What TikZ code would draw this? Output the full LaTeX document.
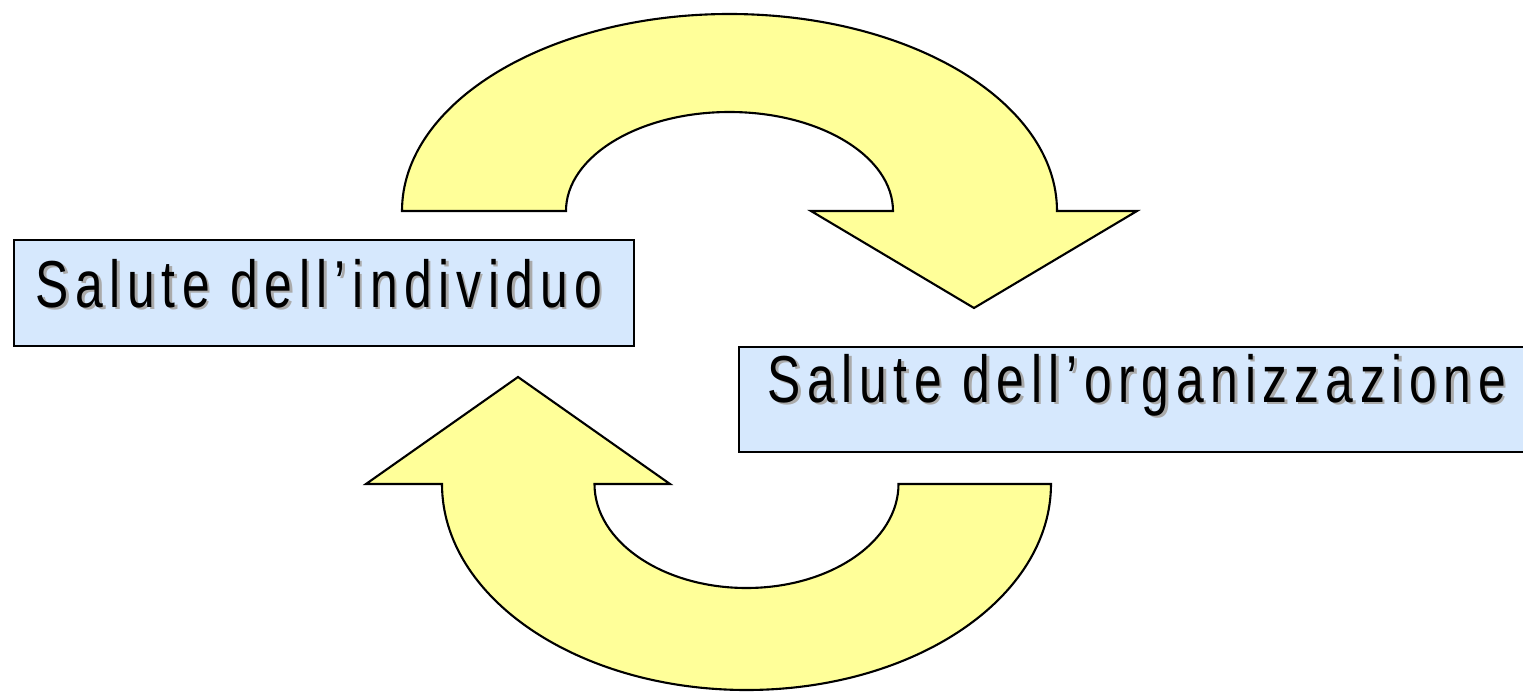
\documentclass[tikz,border=0pt]{standalone}
\usepackage{fontspec}
\setmainfont{Liberation Sans}
\newfontfamily\labelfont[FakeStretch=0.75, LetterSpace=10]{Liberation Sans}
\definecolor{boxblue}{RGB}{214,232,253}
\definecolor{arrowyellow}{RGB}{255,255,153}
\definecolor{shadowgray}{RGB}{170,170,170}
\tikzset{
  label box/.style={draw=black, fill=boxblue, line width=0.6pt, inner sep=0pt},
  label text/.style={inner sep=0pt, anchor=base west, font=\labelfont\fontsize{18.9}{22}\selectfont},
  cycle arrow/.style={draw=black, fill=arrowyellow, line width=0.6pt, line join=miter}
}
\newcommand{\shadowtext}[3]{%
  \node[label text, text=shadowgray] at ($(#2)+(0.025,-0.025)$) {#3};
  \node[label text] (#1) at (#2) {#3};
}
\usetikzlibrary{calc}
\begin{document}
\begin{tikzpicture}
  \useasboundingbox (0,0) rectangle (15.23,6.92);
  % Boxes
  \node[label box, minimum width=6.20cm, minimum height=1.06cm, anchor=south west]
    (boxind) at (0.13,3.45) {};
  \node[label box, minimum width=7.92cm, minimum height=1.05cm, anchor=south west]
    (boxorg) at (7.38,2.39) {};
  % Texts with shadow
  \coordinate (ind) at (0.35,3.85);
  \coordinate (org) at (7.67,2.90);
  \shadowtext{txtind}{ind}{Salute dell’individuo}
  \shadowtext{txtorg}{org}{Salute dell’organizzazione}
  % Upper arrow (individuo -> organizzazione)
  \draw[cycle arrow] (4.02,4.81) arc[start angle=180, end angle=0, x radius=3.275, y radius=1.97]
    -- (11.37,4.81) -- (9.74,3.84) -- (8.11,4.81) -- (8.93,4.81)
    arc[start angle=0, end angle=180, x radius=1.635, y radius=0.99] -- cycle;
  % Lower arrow (organizzazione -> individuo)
  \draw[cycle arrow] (10.51,2.08) arc[start angle=0, end angle=-180, x radius=3.045, y radius=2.06]
    -- (3.66,2.08) -- (5.18,3.15) -- (6.70,2.08) -- (5.945,2.08)
    arc[start angle=180, end angle=360, x radius=1.52, y radius=1.04] -- cycle;
\end{tikzpicture}
\end{document}
